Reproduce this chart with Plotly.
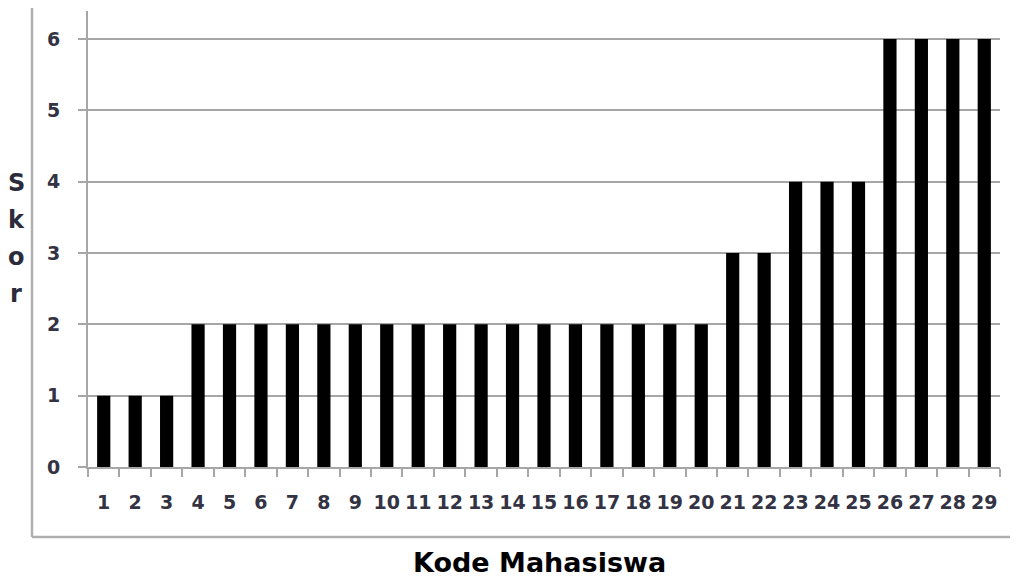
import plotly.graph_objects as go

kode = [str(i) for i in range(1, 30)]
skor = [1, 1, 1, 2, 2, 2, 2, 2, 2, 2, 2, 2, 2, 2, 2, 2, 2, 2, 2, 2, 3, 3, 4, 4, 4, 6, 6, 6, 6]
y_ticks = [0, 1, 2, 3, 4, 5, 6]
x_title = "Kode Mahasiswa"
y_title_letters = ["S", "k", "o", "r"]

# the page puts the figure 8px in from the top-left corner
OFF = 8
W, H = 1018 - OFF, 580 - OFF
L, R, T, B = 88 - OFF, 1000 - OFF, 11 - OFF, 467 - OFF
y_top = 6 * (B - T) / (B - (39 - OFF))

fig = go.Figure()
fig.add_trace(go.Bar(x=kode, y=skor, marker=dict(color="black", line=dict(width=0)), width=0.42))

axis_gray = "#a6a6a6"
tick_font = dict(family="DejaVu Sans", size=19, color="#333344", weight="bold")

fig.update_layout(
    width=W, height=H,
    margin=dict(l=L, r=W - R, t=T, b=H - B, pad=0),
    paper_bgcolor="white", plot_bgcolor="white",
    showlegend=False,
    xaxis=dict(
        type="category", showline=True, linecolor=axis_gray, linewidth=2,
        ticks="outside", tickson="boundaries", ticklen=8, tickcolor=axis_gray, tickwidth=2,
        tickfont=tick_font, tickangle=0, ticklabelstandoff=17, showgrid=False, zeroline=False,
    ),
    yaxis=dict(
        range=[0, y_top], tickvals=y_ticks, showline=True, linecolor=axis_gray, linewidth=2,
        ticks="outside", ticklen=8, tickcolor=axis_gray, tickwidth=2,
        tickfont=tick_font, ticklabelstandoff=14,
        showgrid=True, gridcolor=axis_gray, gridwidth=1.5, zeroline=False,
    ),
)

def px_x(x):
    return (x - OFF - L) / (R - L)

def px_y(y):
    return (B - (y - OFF)) / (B - T)

# outer chart frame (left and bottom border)
fig.add_shape(type="line", xref="paper", yref="paper",
              x0=px_x(32), x1=px_x(32), y0=px_y(0), y1=px_y(537),
              line=dict(color="#b0b0b0", width=2.5))
fig.add_shape(type="line", xref="paper", yref="paper",
              x0=px_x(32), x1=px_x(1025), y0=px_y(537), y1=px_y(537),
              line=dict(color="#b0b0b0", width=2.5))

# vertical stacked y title
for i, ch in enumerate(y_title_letters):
    fig.add_annotation(text=ch, xref="paper", yref="paper",
                       x=px_x(16), y=px_y(183 + 37 * i), showarrow=False,
                       xanchor="center", yanchor="middle",
                       font=dict(family="DejaVu Sans", size=24, color="#2b2b3b", weight="bold"))

fig.add_annotation(text=x_title, xref="paper", yref="paper",
                   x=px_x(539), y=px_y(562), showarrow=False,
                   xanchor="center", yanchor="middle",
                   font=dict(family="DejaVu Sans", size=27, color="black", weight="bold"))

fig.write_html("out.html")
